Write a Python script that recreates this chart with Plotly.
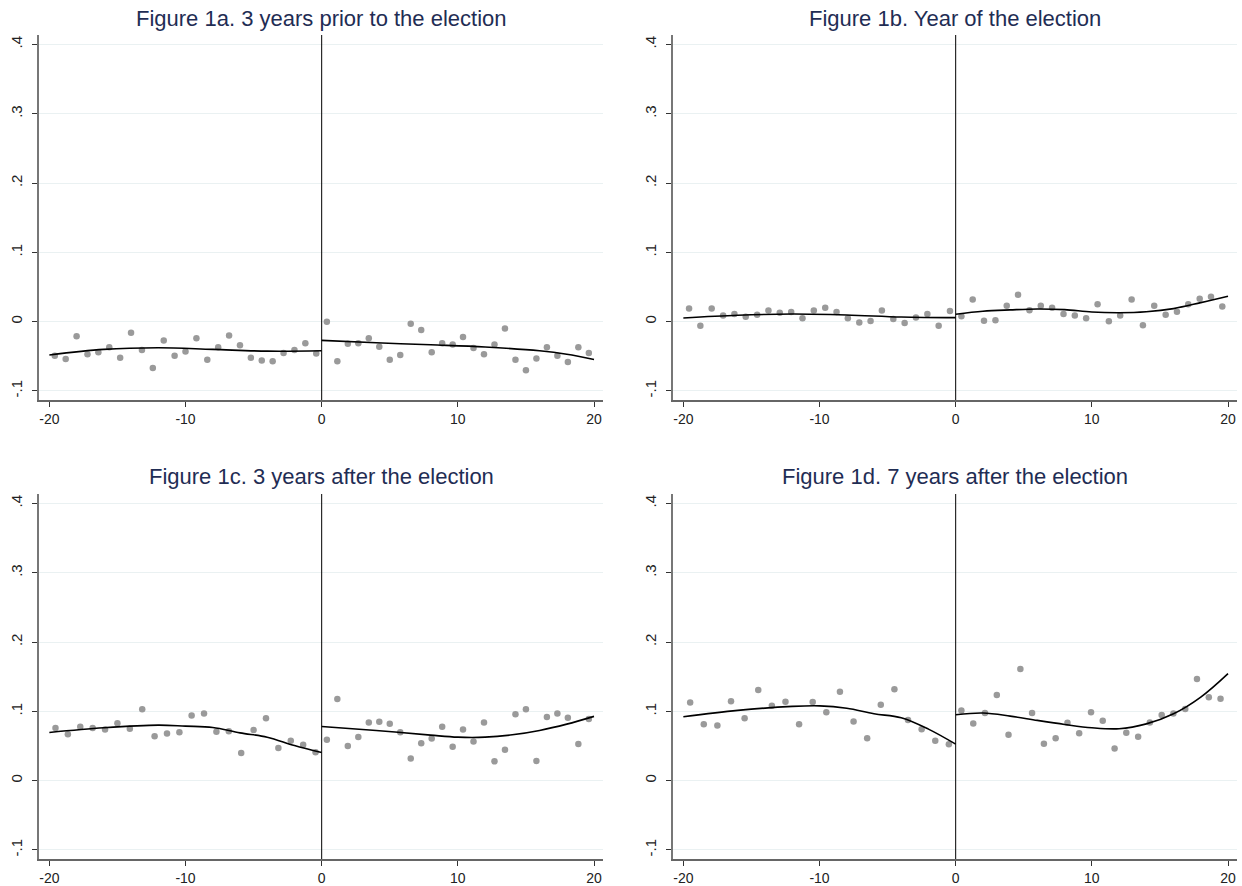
import plotly.graph_objects as go

# ---------------- data ----------------
# Panel 1a
a_lx = [-19.6, -18.8, -18.0, -17.2, -16.4, -15.6, -14.8, -14.0, -13.2, -12.4, -11.6, -10.8, -10.0,
        -9.2, -8.4, -7.6, -6.8, -6.0, -5.2, -4.4, -3.6, -2.8, -2.0, -1.2, -0.4]
a_ly = [-0.049, -0.054, -0.021, -0.047, -0.044, -0.037, -0.052, -0.016, -0.041, -0.067, -0.027, -0.049, -0.043,
        -0.024, -0.055, -0.037, -0.020, -0.034, -0.052, -0.056, -0.057, -0.045, -0.041, -0.031, -0.046]
a_rx = [0.38, 1.15, 1.92, 2.69, 3.46, 4.23, 5.0, 5.77, 6.54, 7.31, 8.08, 8.85, 9.62,
        10.38, 11.15, 11.92, 12.69, 13.46, 14.23, 15.0, 15.77, 16.54, 17.31, 18.08, 18.85, 19.62]
a_ry = [0.000, -0.057, -0.032, -0.031, -0.024, -0.036, -0.055, -0.048, -0.003, -0.012, -0.044, -0.031, -0.033,
        -0.022, -0.038, -0.047, -0.033, -0.010, -0.055, -0.070, -0.053, -0.037, -0.049, -0.058, -0.037, -0.045]
a_fit_lx = [-20, -16, -12, -8, -4, 0]
a_fit_ly = [-0.048, -0.040, -0.0377, -0.040, -0.0425, -0.042]
a_fit_rx = [0, 4, 8, 12, 16, 18, 20]
a_fit_ry = [-0.027, -0.0304, -0.0333, -0.0365, -0.042, -0.047, -0.0545]

# Panel 1b
b_lx = [-19.58, -18.75, -17.92, -17.08, -16.25, -15.42, -14.58, -13.75, -12.92, -12.08, -11.25, -10.42,
        -9.58, -8.75, -7.92, -7.08, -6.25, -5.42, -4.58, -3.75, -2.92, -2.08, -1.25, -0.42]
b_ly = [0.019, -0.006, 0.019, 0.009, 0.011, 0.007, 0.010, 0.016, 0.013, 0.014, 0.005, 0.016,
        0.020, 0.014, 0.005, -0.001, 0.001, 0.016, 0.004, -0.002, 0.006, 0.011, -0.006, 0.0155]
b_rx = [0.42, 1.25, 2.08, 2.92, 3.75, 4.58, 5.42, 6.25, 7.08, 7.92, 8.75, 9.58,
        10.42, 11.25, 12.08, 12.92, 13.75, 14.58, 15.42, 16.25, 17.08, 17.92, 18.75, 19.58]
b_ry = [0.008, 0.032, 0.0015, 0.002, 0.023, 0.039, 0.0165, 0.023, 0.020, 0.011, 0.009, 0.005,
        0.025, 0.0005, 0.009, 0.032, -0.005, 0.023, 0.010, 0.0145, 0.025, 0.033, 0.036, 0.022]
b_fit_lx = [-20, -16, -12, -8, -4, 0]
b_fit_ly = [0.0054, 0.0093, 0.011, 0.0097, 0.0068, 0.0058]
b_fit_rx = [0, 2, 4, 6, 8, 10, 12, 14, 16, 18, 20]
b_fit_ry = [0.0107, 0.015, 0.017, 0.0184, 0.0174, 0.014, 0.013, 0.0143, 0.0189, 0.0275, 0.0368]

# Panel 1c
c_lx = [-19.55, -18.64, -17.73, -16.82, -15.91, -15.0, -14.09, -13.18, -12.27, -11.36, -10.45,
        -9.55, -8.64, -7.73, -6.82, -5.91, -5.0, -4.09, -3.18, -2.27, -1.36, -0.45]
c_ly = [0.076, 0.067, 0.078, 0.076, 0.074, 0.083, 0.075, 0.103, 0.064, 0.068, 0.070,
        0.094, 0.097, 0.0705, 0.0715, 0.040, 0.073, 0.090, 0.047, 0.0575, 0.052, 0.041]
c_rx = [0.38, 1.15, 1.92, 2.69, 3.46, 4.23, 5.0, 5.77, 6.54, 7.31, 8.08, 8.85, 9.62,
        10.38, 11.15, 11.92, 12.69, 13.46, 14.23, 15.0, 15.77, 16.54, 17.31, 18.08, 18.85, 19.62]
c_ry = [0.059, 0.118, 0.050, 0.063, 0.084, 0.085, 0.082, 0.070, 0.032, 0.054, 0.061, 0.078, 0.049,
        0.074, 0.0565, 0.084, 0.028, 0.0445, 0.096, 0.103, 0.0285, 0.092, 0.097, 0.091, 0.053, 0.089]
c_fit_lx = [-20, -16, -12, -10, -8, -6, -4, -2, 0]
c_fit_ly = [0.0696, 0.0763, 0.0802, 0.0787, 0.0768, 0.069, 0.0628, 0.0507, 0.0406]
c_fit_rx = [0, 4, 8, 10, 12, 14, 16, 18, 20]
c_fit_ry = [0.0783, 0.0725, 0.0657, 0.0628, 0.0628, 0.0662, 0.0725, 0.0816, 0.0928]

# Panel 1d
d_lx = [-19.5, -18.5, -17.5, -16.5, -15.5, -14.5, -13.5, -12.5, -11.5, -10.5,
        -9.5, -8.5, -7.5, -6.5, -5.5, -4.5, -3.5, -2.5, -1.5, -0.5]
d_ly = [0.113, 0.0816, 0.0797, 0.1145, 0.090, 0.131, 0.108, 0.114, 0.0816, 0.1135,
        0.0986, 0.1285, 0.0855, 0.0614, 0.1097, 0.132, 0.0874, 0.0744, 0.0575, 0.0527]
d_rx = [0.42, 1.29, 2.15, 3.02, 3.88, 4.75, 5.61, 6.48, 7.34, 8.21, 9.07, 9.94,
        10.8, 11.67, 12.53, 13.4, 14.26, 15.13, 15.99, 16.86, 17.72, 18.59, 19.45]
d_ry = [0.1014, 0.0826, 0.0976, 0.1237, 0.0662, 0.1613, 0.0976, 0.0532, 0.0614, 0.0836, 0.0686, 0.0986,
        0.0865, 0.0464, 0.0691, 0.0633, 0.0841, 0.0947, 0.0971, 0.1034, 0.1469, 0.1203, 0.1184]
d_fit_lx = [-20, -16, -12, -10, -8, -6, -4, -2, 0]
d_fit_ly = [0.0923, 0.1014, 0.1072, 0.108, 0.1045, 0.0966, 0.0908, 0.0744, 0.0527]
d_fit_rx = [0, 2, 4, 6, 8, 10, 12, 14, 16, 18, 20]
d_fit_ry = [0.0952, 0.0976, 0.0932, 0.087, 0.0812, 0.0764, 0.075, 0.082, 0.0966, 0.1207, 0.1546]

titles = ["Figure 1a. 3 years prior to the election", "Figure 1b. Year of the election",
          "Figure 1c. 3 years after the election", "Figure 1d. 7 years after the election"]
x_ticks = [-20, -10, 0, 10, 20]
x_tick_labels = ["-20", "-10", "0", "10", "20"]
y_ticks = [-0.1, 0, 0.1, 0.2, 0.3, 0.4]
y_tick_labels = ["-.1", "0", ".1", ".2", ".3", ".4"]

panels = [
    (a_lx, a_ly, a_rx, a_ry, a_fit_lx, a_fit_ly, a_fit_rx, a_fit_ry),
    (b_lx, b_ly, b_rx, b_ry, b_fit_lx, b_fit_ly, b_fit_rx, b_fit_ry),
    (c_lx, c_ly, c_rx, c_ry, c_fit_lx, c_fit_ly, c_fit_rx, c_fit_ry),
    (d_lx, d_ly, d_rx, d_ry, d_fit_lx, d_fit_ly, d_fit_rx, d_fit_ry),
]

# ---------------- layout ----------------
W, H = 1242, 886
x_doms = [[39 / W, 603 / W], [673 / W, 1237 / W]]
y_doms = [[(H - 400) / H, (H - 35) / H], [(H - 859) / H, (H - 494) / H]]
title_y = [(H - 18) / H, (H - 476) / H]

fig = go.Figure()
layout = dict(
    width=W, height=H, margin=dict(l=0, r=0, t=0, b=0),
    paper_bgcolor="white", plot_bgcolor="white", showlegend=False,
    font=dict(family="Arial, Liberation Sans, sans-serif", color="#222222"),
)
annotations = []
shapes = []
marker_color = "#9a9a9a"

for i, (lx, ly, rx, ry, flx, fly, frx, fry) in enumerate(panels):
    row, col = divmod(i, 2)
    n = "" if i == 0 else str(i + 1)
    xa, ya = "x" + n, "y" + n
    for xs, ys in ((lx, ly), (rx, ry)):
        fig.add_trace(go.Scatter(x=xs, y=ys, mode="markers", xaxis=xa, yaxis=ya,
                                 marker=dict(color=marker_color, size=6.5, line=dict(width=0))))
    for xs, ys in ((flx, fly), (frx, fry)):
        fig.add_trace(go.Scatter(x=xs, y=ys, mode="lines", xaxis=xa, yaxis=ya,
                                 line=dict(color="black", width=1.6, shape="spline", smoothing=1.0)))
    layout["xaxis" + n] = dict(
        domain=x_doms[col], anchor=ya, range=[-20.76, 20.66],
        tickvals=x_ticks, ticktext=x_tick_labels, ticks="outside", ticklen=5, tickwidth=1,
        tickcolor="#333333", showline=True, linecolor="#666666", linewidth=1.6,
        showgrid=False, zeroline=False, tickfont=dict(size=14, color="#222222"), automargin=False)
    layout["yaxis" + n] = dict(
        domain=y_doms[row], anchor=xa, range=[-0.113, 0.4137],
        tickvals=y_ticks, ticktext=y_tick_labels, ticks="outside", ticklen=5, tickwidth=1,
        tickcolor="#333333", showline=True, linecolor="#777777", linewidth=1.8,
        showgrid=True, gridcolor="#eaf1f2", gridwidth=1, zeroline=False, ticklabelstandoff=4,
        tickangle=-90, tickfont=dict(size=15, color="#222222"), automargin=False)
    shapes.append(dict(type="line", xref=xa, yref=ya + " domain", x0=0, x1=0, y0=0, y1=1,
                       line=dict(color="black", width=1)))
    annotations.append(dict(text=titles[i], xref="paper", yref="paper",
                            x=(x_doms[col][0] + x_doms[col][1]) / 2, y=title_y[row],
                            xanchor="center", yanchor="middle", showarrow=False,
                            font=dict(size=22, color="#1f2d54")))

layout["annotations"] = annotations
layout["shapes"] = shapes
fig.update_layout(**layout)
fig.write_html("out.html", config={"displayModeBar": False},
               post_script="document.body.style.margin='0';document.body.style.overflow='hidden';")
